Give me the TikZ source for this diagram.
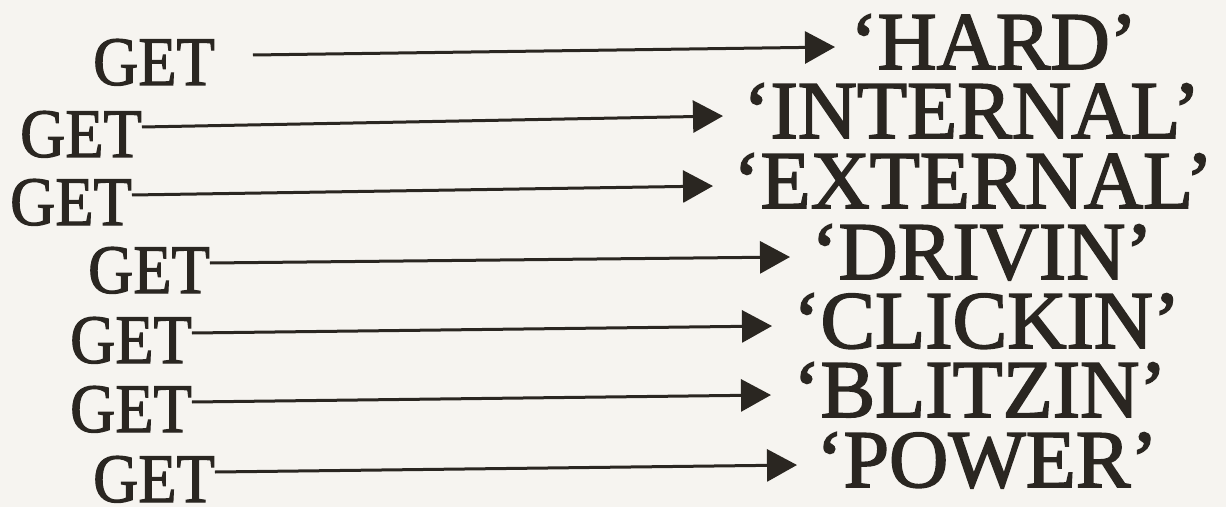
\documentclass[tikz,border=0pt]{standalone}
\usepackage{fontspec}
\setmainfont{Liberation Serif}
\newfontfamily\getfont[FakeStretch=0.9,FakeBold=1.6]{Liberation Serif}
\newfontfamily\wordfont[FakeBold=2]{Liberation Serif}
\usetikzlibrary{arrows.meta}
\definecolor{ink}{HTML}{2A2621}
\definecolor{paper}{HTML}{F6F4F0}
\tikzset{
  getword/.style={anchor=base west, inner sep=0pt, text=ink, font=\getfont\fontsize{69.5}{70}\selectfont},
  bigword/.style={anchor=base west, inner sep=0pt, text=ink, font=\wordfont\fontsize{82}{82}\selectfont},
  arr/.style={draw=ink, line width=3pt, -{Triangle[length=30pt,width=32pt]}}
}
\begin{document}
\begin{tikzpicture}[x=1pt,y=1pt]
\path[fill=paper,use as bounding box] (0,0) rectangle (1226,507);
% left GET nodes (y = 507 - baseline)
\node[getword] (g1) at (93,422) {GET};
\node[getword] (g2) at (20,350) {GET};
\node[getword] (g3) at (10,282) {GET};
\node[getword] (g4) at (88,214) {GET};
\node[getword] (g5) at (70,144) {GET};
\node[getword] (g6) at (70,75) {GET};
\node[getword] (g7) at (93,5) {GET};
% right words
\node[bigword] (w1) at (850,438) {‘HARD’};
\node[bigword] (w2) at (743,369) {‘INTERNAL’};
\node[bigword] (w3) at (733,299) {‘EXTERNAL’};
\node[bigword] (w4) at (811,228) {‘DRIVIN’};
\node[bigword] (w5) at (793,159) {‘CLICKIN’};
\node[bigword] (w6) at (793,90) {‘BLITZIN’};
\node[bigword] (w7) at (816,20) {‘POWER’};
% arrows
\draw[arr] ([xshift=38pt,yshift=30pt]g1.base east) -- ([xshift=-15pt,yshift=22pt]w1.base west);
\draw[arr] ([yshift=30pt]g2.base east) -- ([xshift=-20pt,yshift=22pt]w2.base west);
\draw[arr] ([yshift=30pt]g3.base east) -- ([xshift=-20pt,yshift=22pt]w3.base west);
\draw[arr] ([yshift=30pt]g4.base east) -- ([xshift=-21pt,yshift=22pt]w4.base west);
\draw[arr] ([yshift=30pt]g5.base east) -- ([xshift=-21pt,yshift=22pt]w5.base west);
\draw[arr] ([yshift=30pt]g6.base east) -- ([xshift=-22pt,yshift=22pt]w6.base west);
\draw[arr] ([yshift=30pt]g7.base east) -- ([xshift=-19pt,yshift=22pt]w7.base west);
\end{tikzpicture}
\end{document}
